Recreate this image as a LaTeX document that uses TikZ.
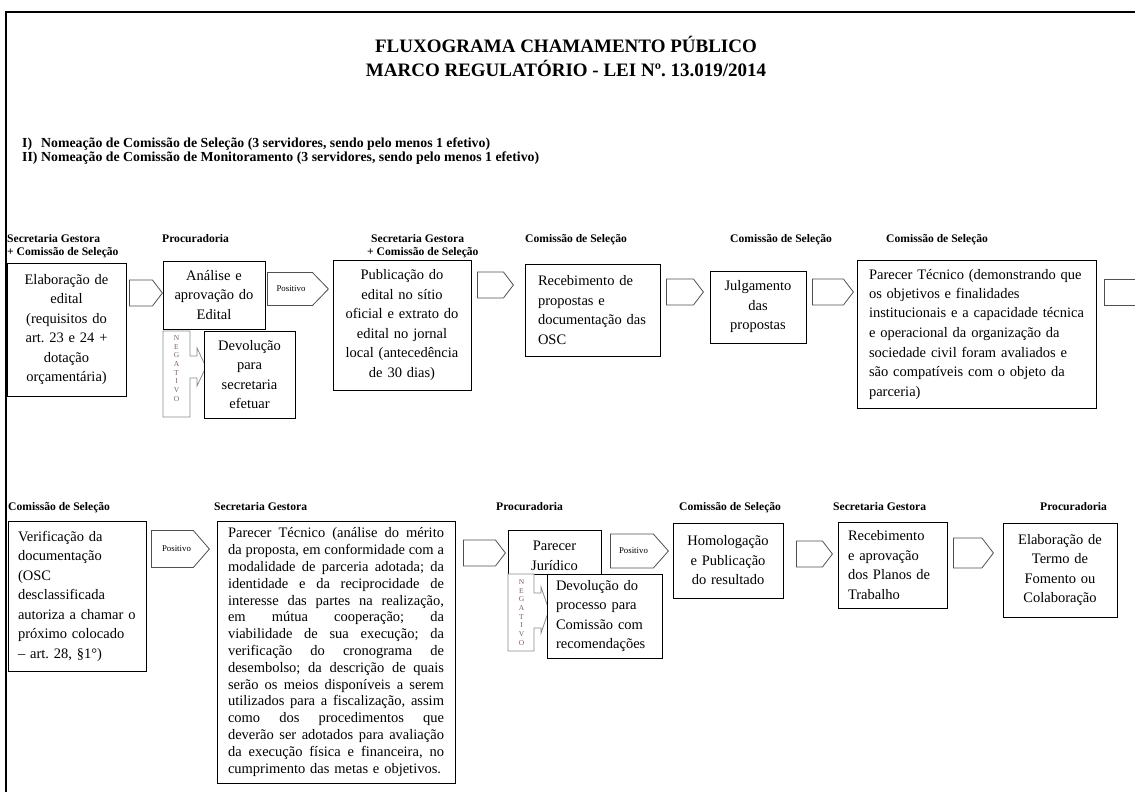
\documentclass[tikz,border=0pt]{standalone}
\usepackage{fontspec}
\setmainfont{Liberation Serif}
\usetikzlibrary{shapes.arrows}
\definecolor{negcol}{RGB}{125,95,100}
\definecolor{arrcol}{RGB}{80,80,80}
\newcommand\jline[1]{\leavevmode\hbox to 216pt{\spaceskip=3.6pt plus 1fil\xspaceskip=3.6pt plus 1fil\relax #1}}
\begin{document}
\frenchspacing
\begin{tikzpicture}[x=1pt,y=-1pt,
  box/.style={draw=black,line width=0.9pt,fill=white,inner ysep=0pt,
     font=\fontsize{14.5}{19.5}\selectfont},
  cbox/.style={box,align=center},
  lbox/.style={box,align=left},
  hdr/.style={anchor=base west,inner sep=0pt,font=\fontsize{11.6}{13}\selectfont\bfseries},
  ttl/.style={anchor=base,inner sep=0pt,font=\fontsize{19}{24}\selectfont\bfseries},
  itm/.style={anchor=base west,inner sep=0pt,font=\fontsize{13.8}{14}\selectfont\bfseries},
  barrow/.style={single arrow,draw=arrcol,fill=white,line width=0.8pt,
     inner xsep=0pt,text height=0pt,text depth=0pt,anchor=tail,
     single arrow head extend=0pt,single arrow tip angle=105,minimum width=26pt},
  poslbl/.style={inner sep=0pt,font=\fontsize{8.8}{9}\selectfont},
  negtxt/.style={inner sep=0pt,align=center,text=negcol,font=\fontsize{7.5}{8.7}\selectfont},
  negshape/.style={draw=black!45,line width=0.8pt,fill=white},
]
\useasboundingbox (0,0) rectangle (1135,792);
\clip (0,0) rectangle (1135,792);
% page border
\draw[line width=2pt] (1140,12) -- (6,12) -- (6,800);

% title
\node[ttl] (t1) at (566,52.5) {FLUXOGRAMA CHAMAMENTO PÚBLICO};
\node[ttl] (t2) at (566,76.5) {MARCO REGULATÓRIO - LEI Nº. 13.019/2014};

% items
\node[itm] (i1) at (22,147.5) {\makebox[19pt][l]{I)}Nomeação de Comissão de Seleção (3 servidores, sendo pelo menos 1 efetivo)};
\node[itm] (i2) at (22,161.5) {\makebox[19pt][l]{II)}Nomeação de Comissão de Monitoramento (3 servidores, sendo pelo menos 1 efetivo)};

% headers row 1
\node[hdr] (hA1) at (7,242.5) {Secretaria Gestora};
\node[hdr] (hA2) at (7,255.5) {+ Comissão de Seleção};
\node[hdr] (hB) at (162,242.5) {Procuradoria};
\node[hdr] (hC1) at (371,242.5) {Secretaria Gestora};
\node[hdr] (hC2) at (367,255.5) {+ Comissão de Seleção};
\node[hdr] (hD) at (525,242.5) {Comissão de Seleção};
\node[hdr] (hE) at (730,242.5) {Comissão de Seleção};
\node[hdr] (hF) at (886,242.5) {Comissão de Seleção};
% headers row 2
\node[hdr] (hG) at (8,510.5) {Comissão de Seleção};
\node[hdr] (hH) at (214,510.5) {Secretaria Gestora};
\node[hdr] (hI) at (496,510.5) {Procuradoria};
\node[hdr] (hJ) at (679,510.5) {Comissão de Seleção};
\node[hdr] (hK) at (833,510.5) {Secretaria Gestora};
\node[hdr] (hL) at (1040,510.5) {Procuradoria};

% block arrows row 1
\node[barrow,inner ysep=7pt,minimum height=33pt] (a1) at (129,293) {};
\node[barrow,inner ysep=6.5pt,minimum height=61pt,minimum width=33pt,single arrow tip angle=92] (a2) at (267,289) {};
\node[poslbl] (p2) at (291,289) {Positivo};
\node[barrow,inner ysep=6.5pt,minimum height=36pt] (a3) at (477,285) {};
\node[barrow,inner ysep=7pt,minimum height=37pt] (a4) at (666,292) {};
\node[barrow,inner ysep=7pt,minimum height=41pt] (a5) at (812,292) {};
\node[barrow,inner ysep=6.5pt,minimum height=45pt] (a6) at (1104,292.5) {};
% block arrows row 2
\node[barrow,inner ysep=7pt,minimum height=58pt,minimum width=37pt,single arrow tip angle=98] (a7) at (151,549) {};
\node[poslbl] (p7) at (176.5,549) {Positivo};
\node[barrow,inner ysep=6.5pt,minimum height=42pt] (a8) at (463,553) {};
\node[barrow,inner ysep=6pt,minimum height=58pt,minimum width=34pt,single arrow tip angle=97] (a9) at (610,551) {};
\node[poslbl] (p9) at (633.5,551) {Positivo};
\node[barrow,inner ysep=6pt,minimum height=36pt] (a10) at (796,554) {};
\node[barrow,inner ysep=6pt,minimum height=40pt,minimum width=30pt] (a11) at (953,553) {};

% row 1 boxes
\node[cbox,minimum width=119pt,minimum height=133pt,text width=109pt,inner xsep=5pt] (A) at (66.5,329.5)
  {Elaboração de\\edital\\(requisitos do\\art. 23 e 24 +\\dotação\\orçamentária)};
\node[cbox,minimum width=102pt,minimum height=68pt,text width=94pt,inner xsep=4pt] (B) at (214,295)
  {Análise e\\aprovação do\\Edital};
\draw[negshape] (163,331) -- (190,331) -- (190,356) -- (197,356) -- (197,348) -- (206,367)
  -- (197,386) -- (197,378) -- (190,378) -- (190,417) -- (163,417) -- cycle;
\node[negtxt] (n1) at (176.5,368.5) {N\\E\\G\\A\\T\\I\\V\\O};
\node[cbox,minimum width=91pt,minimum height=87pt,text width=85pt,inner xsep=3pt] (B2) at (249.5,374.5)
  {Devolução\\para\\secretaria\\efetuar};
\node[cbox,minimum width=138pt,minimum height=130pt,text width=132pt,inner xsep=3pt] (C) at (402,325)
  {Publicação do\\edital no sítio\\oficial e extrato do\\edital no jornal\\local (antecedência\\de 30 dias)};
\node[lbox,minimum width=135pt,minimum height=92pt,text width=109pt,inner xsep=13pt] (D) at (592.5,310)
  {Recebimento de\\propostas e\\documentação das\\OSC};
\node[cbox,minimum width=96pt,minimum height=72pt,text width=90pt,inner xsep=3pt] (E) at (758,307)
  {Julgamento\\das\\propostas};
\node[lbox,minimum width=239pt,minimum height=148pt,text width=215pt,inner xsep=12pt] (F) at (976.5,334)
  {Parecer Técnico (demonstrando que\\os objetivos e finalidades\\institucionais e a capacidade técnica\\e operacional da organização da\\sociedade civil foram avaliados e\\são compatíveis com o objeto da\\parceria)};

% row 2 boxes
\node[lbox,minimum width=138pt,minimum height=150pt,text width=118pt,inner xsep=10pt] (G) at (77,596)
  {Verificação da\\documentação\\(OSC\\desclassificada\\autoriza a chamar o\\próximo colocado\\– art. 28, §1°)};
\node[lbox,minimum width=238pt,minimum height=262pt,text width=216pt,inner xsep=11pt,
      font=\fontsize{14.5}{16.8}\selectfont] (H) at (336,652)
  {\jline{Parecer Técnico (análise do mérito}\\
   \jline{da proposta, em conformidade com a}\\
   \jline{modalidade de parceria adotada; da}\\
   \jline{identidade e da reciprocidade de}\\
   \jline{interesse das partes na realização,}\\
   \jline{em mútua cooperação; da}\\
   \jline{viabilidade de sua execução; da}\\
   \jline{verificação do cronograma de}\\
   \jline{desembolso; da descrição de quais}\\
   \jline{serão os meios disponíveis a serem}\\
   \jline{utilizados para a fiscalização, assim}\\
   \jline{como dos procedimentos que}\\
   \jline{deverão ser adotados para avaliação}\\
   \jline{da execução física e financeira, no}\\
   cumprimento das metas e objetivos.};
\node[cbox,minimum width=93pt,minimum height=44pt,text width=87pt,inner xsep=3pt] (I) at (554.5,552)
  {\rule{0pt}{17pt}Parecer\\Jurídico};
\draw[negshape] (508,574) -- (534,574) -- (534,593) -- (541,593) -- (541,587) -- (549,610)
  -- (541,633) -- (541,628) -- (534,628) -- (534,651) -- (508,651) -- cycle;
\node[negtxt] (n2) at (521.5,612.5) {N\\E\\G\\A\\T\\I\\V\\O};
\node[lbox,minimum width=115pt,minimum height=84pt,text width=97pt,inner xsep=9pt] (I2) at (604.5,616)
  {Devolução do\\processo para\\Comissão com\\recomendações};
\node[cbox,minimum width=110pt,minimum height=75pt,text width=104pt,inner xsep=3pt] (J) at (728,560.5)
  {Homologação\\e Publicação\\do resultado};
\node[lbox,minimum width=109pt,minimum height=86pt,text width=89pt,inner xsep=10pt] (K) at (892.5,565)
  {Recebimento\\e aprovação\\dos Planos de\\Trabalho};
\node[cbox,minimum width=114pt,minimum height=94pt,text width=108pt,inner xsep=3pt] (L) at (1060,570)
  {Elaboração de\\Termo de\\Fomento ou\\Colaboração};
\end{tikzpicture}
\end{document}
